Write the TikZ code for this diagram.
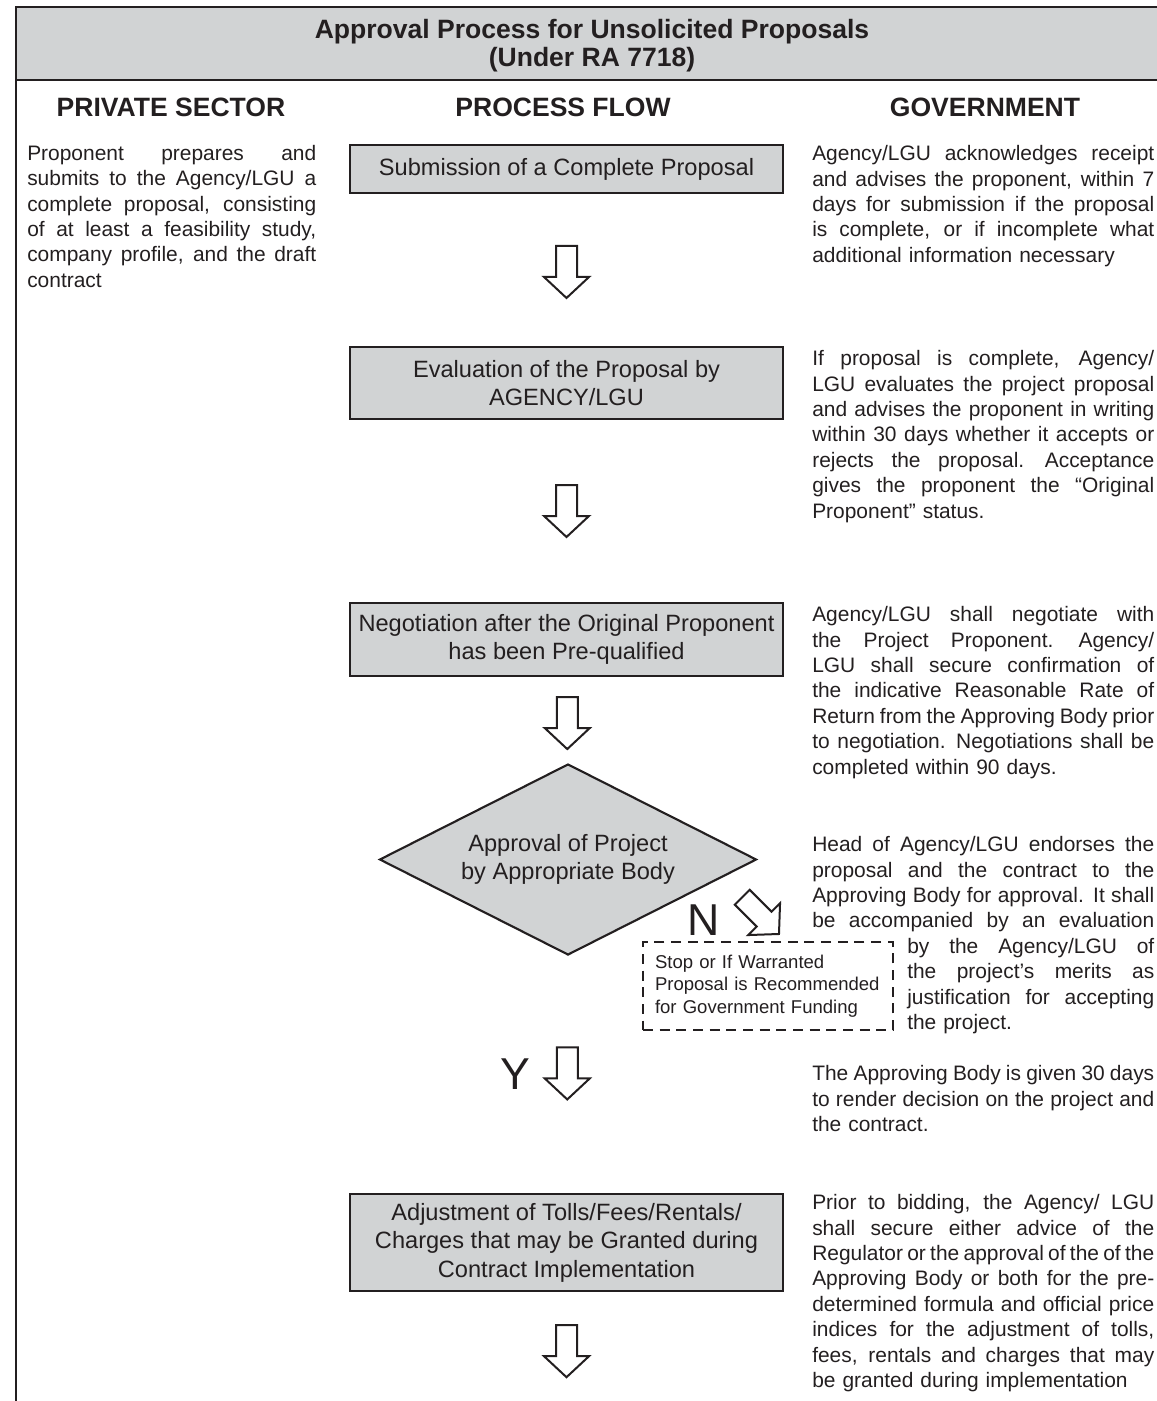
\documentclass[tikz,border=0pt]{standalone}
\usepackage{fontspec}
\setmainfont{Liberation Sans}
\usetikzlibrary{shapes.geometric,calc}
\definecolor{ink}{HTML}{231F20}
\definecolor{boxgray}{HTML}{D1D3D4}
\newcommand{\jl}[1]{\makebox[\hsize][s]{\spaceskip=.278em plus 1fil minus .12em\xspaceskip=.42em plus 1fil minus .12em\strut#1}\\}
\newcommand{\lastln}[1]{\strut#1}
\newcommand{\colfont}{\fontsize{15.7pt}{19.05pt}\selectfont}
\newcommand{\boxfont}{\fontsize{17.7pt}{21.4pt}\selectfont}
\newcommand{\dashfont}{\fontsize{13.9pt}{16.9pt}\selectfont}
\newcommand{\headfont}{\fontsize{19.9pt}{21.75pt}\selectfont\bfseries}
\newcommand{\bigfont}{\fontsize{33.5pt}{36pt}\selectfont}
\begin{document}
\begin{tikzpicture}[x=0.75pt,y=-0.75pt,
  every node/.style={inner sep=0pt, text=ink},
  flowbox/.style={draw=ink, line width=1.8pt, fill=boxgray, minimum width=324.75pt, align=center, font=\boxfont},
  decision/.style={draw=ink, line width=1.6pt, fill=boxgray, shape=diamond, aspect=1.97, minimum width=282.75pt, minimum height=143.25pt, align=center, font=\boxfont},
  stopbox/.style={draw=ink, line width=1.5pt, dash pattern=on 7.5pt off 5pt, text width=169.5pt, inner xsep=9pt, minimum height=66pt, align=left, font=\dashfont},
  coltext/.style={anchor=north west, font=\colfont},
  heading/.style={anchor=base, font=\headfont},
  yesno/.style={anchor=base, font=\bigfont},
  blockarrow/.pic={\draw[ink, line width=1.5pt, fill=white, line join=miter]
    (-10.5,-26) -- (10.5,-26) -- (10.5,5) -- (22.5,5) -- (0,26) -- (-22.5,5) -- (-10.5,5) -- cycle;}
]
\useasboundingbox (0,0) rectangle (1156,1401);

% header band and left border
\draw[ink, line width=1.8pt, fill=boxgray] (16,7) rectangle (1175,80);
\draw[ink, line width=1.8pt] (16,80) -- (16,1412);
\node[heading] (title1) at (592,39) {Approval Process for Unsolicited Proposals};
\node[heading] (title2) at (592,67) {(Under RA 7718)};

% column headings
\node[heading] (hpriv) at (171,117) {PRIVATE SECTOR};
\node[heading] (hflow) at (563,117) {PROCESS FLOW};
\node[heading] (hgov) at (985,117) {GOVERNMENT};

% private sector text
\node[coltext, text width=216.75pt] (priv) at (27,142.2) {%
\jl{Proponent prepares and}
\jl{submits to the Agency/LGU a}
\jl{complete proposal, consisting}
\jl{of at least a feasibility study,}
\jl{company profile, and the draft}
\lastln{contract}};

% process flow
\node[flowbox, minimum height=36pt] (b1) at (566.5,169) {Submission of a Complete Proposal};
\node[flowbox, minimum height=54pt] (b2) at (566.5,383) {Evaluation of the Proposal by\\AGENCY/LGU};
\node[flowbox, minimum height=54.75pt] (b3) at (566.5,639.5) {Negotiation after the Original Proponent\\has been Pre-qualified};
\node[decision] (dec) at (568,859.5) {Approval of Project\\by Appropriate Body};
\node[flowbox, minimum height=72.75pt] (b5) at (566.5,1242.5) {Adjustment of Tolls/Fees/Rentals/\\Charges that may be Granted during\\Contract Implementation};

\pic at ($(b1.south)!0.5!(b2.north)+(0,2)$) {blockarrow};
\pic at ($(b2.south)!0.5!(b3.north)$) {blockarrow};
\pic at ($(b3.south)!0.5!(dec.north)+(0,3)$) {blockarrow};
\pic at ($(dec.south)!0.5!(b5.north)-(0,1)$) {blockarrow};
\pic at ($(b5.south)+(0,59)$) {blockarrow};

\node[yesno] (yes) at (515,1089) {Y};
\node[yesno] (no) at (703.5,935) {N};
\pic[rotate=45] at (760.6,915.6) {blockarrow};
\node[stopbox] (stop) at (768,986) {Stop or If Warranted\\Proposal is Recommended\\for Government Funding};

% government text
\node[coltext, text width=256.5pt] (g1) at (812,142.7) {%
\jl{Agency/LGU acknowledges receipt}
\jl{and advises the proponent, within 7}
\jl{days for submission if the proposal}
\jl{is complete, or if incomplete what}
\lastln{additional information necessary}};

\node[coltext, text width=256.5pt] (g2) at (812,347.7) {%
\jl{If proposal is complete, Agency/}
\jl{LGU evaluates the project proposal}
\jl{and advises the proponent in writing}
\jl{within 30 days whether it accepts or}
\jl{rejects the proposal.  Acceptance}
\jl{gives the proponent the “Original}
\lastln{Proponent” status.}};

\node[coltext, text width=256.5pt] (g3) at (812,603.7) {%
\jl{Agency/LGU shall negotiate with}
\jl{the Project Proponent.  Agency/}
\jl{LGU shall secure confirmation of}
\jl{the indicative Reasonable Rate of}
\jl{Return from the Approving Body prior}
\jl{to negotiation.  Negotiations shall be}
\lastln{completed within 90 days.}};

\node[coltext, text width=256.5pt] (g4a) at (812,833.7) {%
\jl{Head of Agency/LGU endorses the}
\jl{proposal and the contract to the}
\jl{Approving Body for approval.  It shall}
\jl{be accompanied by an evaluation}};
\node[coltext, text width=185.25pt] (g4b) at (907,935.3) {%
\jl{by the Agency/LGU of}
\jl{the project’s merits as}
\jl{justification for accepting}
\lastln{the project.}};

\node[coltext, text width=256.5pt] (g5) at (812,1062.7) {%
\jl{The Approving Body is given 30 days}
\jl{to render decision on the project and}
\lastln{the contract.}};

\node[coltext, text width=256.5pt] (g6) at (812,1191.7) {%
\jl{Prior to bidding, the Agency/ LGU}
\jl{shall secure either advice of the}
\jl{Regulator or the approval of the of the}
\jl{Approving Body or both for the pre-}
\jl{determined formula and official price}
\jl{indices for the adjustment of tolls,}
\jl{fees, rentals and charges that may}
\lastln{be granted during implementation}};
\end{tikzpicture}
\end{document}
